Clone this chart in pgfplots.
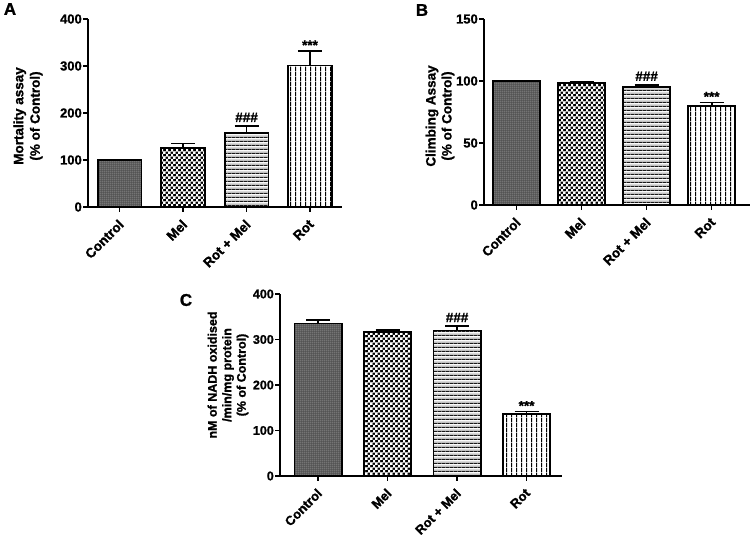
\documentclass[border=0pt]{standalone}
\usepackage{pgfplots}
\pgfplotsset{compat=1.18}
\usepackage{fontspec}
\setmainfont{Liberation Sans}[BoldFeatures={FakeBold=1.2}]
\usetikzlibrary{patterns}

\newcommand\lf{\fontsize{13.5}{16.5}\selectfont\bfseries}
\newcommand\tf{\fontsize{13}{15}\selectfont\bfseries}
\newcommand\cf{\fontsize{12.5}{14.5}\selectfont\bfseries}

% Control: dark grey with fine light dots
\pgfdeclarepatterninherentlycolored{ctrl}{\pgfpointorigin}{\pgfqpoint{2.4pt}{2.4pt}}{\pgfqpoint{2.4pt}{2.4pt}}{%
  \pgfsetfillcolor{black!72}\pgfpathrectangle{\pgfpointorigin}{\pgfqpoint{2.4pt}{2.4pt}}\pgfusepath{fill}%
  \pgfsetfillcolor{black!30}\pgfpathrectangle{\pgfqpoint{0.6pt}{0.6pt}}{\pgfqpoint{1.1pt}{1.1pt}}\pgfusepath{fill}}
% Mel: checkerboard
\pgfdeclarepatterninherentlycolored{checker}{\pgfpointorigin}{\pgfqpoint{4.6pt}{4.6pt}}{\pgfqpoint{4.6pt}{4.6pt}}{%
  \pgfsetfillcolor{black}\pgfpathrectangle{\pgfpointorigin}{\pgfqpoint{4.6pt}{4.6pt}}\pgfusepath{fill}%
  \pgfsetfillcolor{white}\pgfpathrectangle{\pgfpointorigin}{\pgfqpoint{2.3pt}{2.3pt}}%
  \pgfpathrectangle{\pgfqpoint{2.3pt}{2.3pt}}{\pgfqpoint{2.3pt}{2.3pt}}\pgfusepath{fill}}
% Rot + Mel: horizontal lines
\pgfdeclarepatterninherentlycolored{hl}{\pgfpointorigin}{\pgfqpoint{3.5pt}{3.5pt}}{\pgfqpoint{3.5pt}{3.5pt}}{%
  \pgfsetfillcolor{black!15}\pgfpathrectangle{\pgfpointorigin}{\pgfqpoint{3.5pt}{3.5pt}}\pgfusepath{fill}%
  \pgfsetfillcolor{black!90}\pgfpathrectangle{\pgfpointorigin}{\pgfqpoint{3.5pt}{1.3pt}}\pgfusepath{fill}}
% Rot: vertical lines
\pgfdeclarepatterninherentlycolored{vl}{\pgfpointorigin}{\pgfqpoint{4.6pt}{4.6pt}}{\pgfqpoint{4.6pt}{4.6pt}}{%
  \pgfsetfillcolor{white}\pgfpathrectangle{\pgfpointorigin}{\pgfqpoint{4.6pt}{4.6pt}}\pgfusepath{fill}%
  \pgfsetfillcolor{black}\pgfpathrectangle{\pgfpointorigin}{\pgfqpoint{1.2pt}{4.6pt}}\pgfusepath{fill}}

\pgfplotsset{
  gp/.style={
    scale only axis, axis lines=left, axis line style={-, line width=1.7pt},
    ymin=0, xtick={0,1,2,3}, xticklabels={Control,Mel,Rot + Mel,Rot},
    xticklabel style={yshift=-5pt, xshift=-2pt, rotate=45, anchor=north east, font=\lf, inner sep=1pt},
    yticklabel style={font=\tf, inner sep=1pt},
    /pgf/number format/assume math mode=true,
    tick align=outside, major tick length=5pt,
    tick style={line width=1.5pt, black},
    ybar, bar shift=0pt, clip=false,
  },
  eb/.style={draw=black, line width=1.8pt,
    error bars/.cd, y dir=plus, y explicit,
    error bar style={line width=1.8pt, black},
    error mark options={rotate=90, mark size=12pt, line width=1.8pt, black}},
}

\begin{document}
\begin{tikzpicture}
\useasboundingbox (0,0) rectangle (750pt,546pt);

% Panel A
\begin{axis}[gp, at={(88pt,339pt)}, anchor=south west,
  width=253.7pt, height=188pt, xmin=-0.5, xmax=3.5,
  ymax=400, ytick={0,100,200,300,400}, bar width=0.69]
\addplot[pattern=ctrl, eb] coordinates {(0,100) +- (0,0)};
\addplot[pattern=checker, eb] coordinates {(1,126) +- (0,9)};
\addplot[pattern=hl, eb] coordinates {(2,157) +- (0,15)};
\addplot[pattern=vl, eb] coordinates {(3,301) +- (0,31)};
\node[anchor=south, inner sep=0pt, font=\lf] at (axis cs:2,172) [yshift=4pt] {\#\#\#};
\node[anchor=south, inner sep=0pt, font=\lf] at (axis cs:3,332) [yshift=1pt] {***};
\end{axis}

% Panel B
\begin{axis}[gp, at={(484pt,341pt)}, anchor=south west,
  width=266pt, height=186pt, xmin=-0.5, xmax=3.59,
  ymax=150, ytick={0,50,100,150}, bar width=0.72]
\addplot[pattern=ctrl, eb] coordinates {(0,100) +- (0,0)};
\addplot[pattern=checker, eb] coordinates {(1,98.3) +- (0,1.3)};
\addplot[pattern=hl, eb] coordinates {(2,95) +- (0,1.7)};
\addplot[pattern=vl, eb] coordinates {(3,80) +- (0,2.7)};
\node[anchor=south, inner sep=0pt, font=\lf] at (axis cs:2,96.7) [yshift=4pt] {\#\#\#};
\node[anchor=south, inner sep=0pt, font=\lf] at (axis cs:3,82.7) [yshift=1pt] {***};
\end{axis}

% Panel C
\begin{axis}[gp, at={(280pt,70pt)}, anchor=south west,
  width=282pt, height=182pt, xmin=-0.55, xmax=3.51,
  ymax=400, ytick={0,100,200,300,400}, bar width=0.68,
  yticklabel style={font=\cf}, xticklabel style={font=\fontsize{13}{15}\selectfont\bfseries}]
\addplot[pattern=ctrl, eb] coordinates {(0,335) +- (0,7)};
\addplot[pattern=checker, eb] coordinates {(1,317) +- (0,4)};
\addplot[pattern=hl, eb] coordinates {(2,320) +- (0,9)};
\addplot[pattern=vl, eb] coordinates {(3,137) +- (0,4.6)};
\node[anchor=south, inner sep=0pt, font=\lf] at (axis cs:2,329) [yshift=4pt] {\#\#\#};
\node[anchor=south, inner sep=0pt, font=\lf] at (axis cs:3,141.6) [yshift=1pt] {***};
\end{axis}

% y labels
\node[rotate=90, align=center, font=\lf] at (28pt,430pt) {Mortality assay\\(\% of Control)};
\node[rotate=90, align=center, font=\fontsize{13.5}{16}\selectfont\bfseries] at (440pt,430pt) {Climbing Assay\\(\% of Control)};
\node[rotate=90, align=center, font=\cf] at (228pt,171pt) {nM of NADH oxidised\\/min/mg protein\\(\% of Control)};

% panel letters
\node[font=\fontsize{17}{17}\selectfont\bfseries] at (10pt,537pt) {A};
\node[font=\fontsize{17}{17}\selectfont\bfseries] at (422pt,536pt) {B};
\node[font=\fontsize{17}{17}\selectfont\bfseries] at (186pt,246pt) {C};
\end{tikzpicture}
\end{document}
